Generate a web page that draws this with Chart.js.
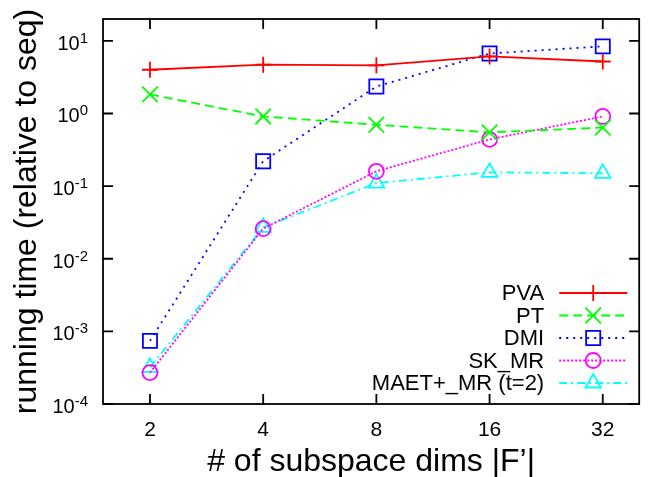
<!DOCTYPE html>
<html>
<head>
<meta charset="utf-8">
<script src="https://cdn.jsdelivr.net/npm/chart.js@4/dist/chart.umd.min.js"></script>
<style>
  html, body { margin: 0; padding: 0; background: #fff; }
  #wrap { width: 652px; height: 477px; }
</style>
</head>
<body>
<div id="wrap"><canvas id="chart"></canvas></div>
<script>
// subspace dims |F'| and running time relative to seq
const dims = [2, 4, 8, 16, 32];
const pva = [4.0, 4.7, 4.6, 6.1, 5.2];
const pt = [1.83, 0.91, 0.70, 0.55, 0.64];
const dmi = [0.00074, 0.22, 2.35, 6.7, 8.4];
const skMr = [0.00027, 0.026, 0.16, 0.44, 0.91];
const maetMr = [0.00032, 0.027, 0.11, 0.155, 0.15];

const seriesNames = ["PVA", "PT", "DMI", "SK_MR", "MAET+_MR (t=2)"];
const yTicks = [1e-4, 1e-3, 1e-2, 1e-1, 1e0, 1e1];
const yTickExps = ["-4", "-3", "-2", "-1", "0", "1"];

const FONT = "'Liberation Sans', Arial, sans-serif";

function toPoints(vals) {
    return dims.map((d, i) => ({ x: d, y: vals[i] }));
}

function makeSet(label, vals, color, dash, style, radius) {
    return {
        label: label,
        data: toPoints(vals),
        borderColor: color,
        borderWidth: 1.8,
        borderDash: dash,
        pointStyle: style,
        pointRadius: radius,
        pointBorderColor: color,
        pointBorderWidth: 1.8,
        pointBackgroundColor: "rgba(0,0,0,0)",
        fill: false,
        tension: 0
    };
}

const datasets = [
    makeSet(seriesNames[0], pva, "#ff0000", [], "cross", 8),
    makeSet(seriesNames[1], pt, "#00ff00", [9, 5], "crossRot", 11),
    makeSet(seriesNames[2], dmi, "#0000ff", [2, 5], "rect", 10),
    makeSet(seriesNames[3], skMr, "#ff00ff", [2, 2], "circle", 7.5),
    makeSet(seriesNames[4], maetMr, "#00ffff", [8, 4, 2, 4], "triangle", 9)
];

// gnuplot-like frame: box, inward ticks, superscript y labels, legend inside
const framePlugin = {
    id: "frame",
    afterDatasetsDraw(chart) {
        const ctx = chart.ctx;
        const a = chart.chartArea;
        const xs = chart.scales.x, ys = chart.scales.y;
        ctx.save();
        ctx.strokeStyle = "#000";
        ctx.lineWidth = 1.8;
        ctx.setLineDash([]);
        ctx.strokeRect(a.left, a.top, a.right - a.left, a.bottom - a.top);
        const tl = 10;
        ctx.beginPath();
        dims.forEach(d => {
            const px = xs.getPixelForValue(d);
            ctx.moveTo(px, a.bottom); ctx.lineTo(px, a.bottom - tl);
            ctx.moveTo(px, a.top); ctx.lineTo(px, a.top + tl);
        });
        yTicks.forEach(v => {
            const py = ys.getPixelForValue(v);
            ctx.moveTo(a.left, py); ctx.lineTo(a.left + tl, py);
            ctx.moveTo(a.right, py); ctx.lineTo(a.right - tl, py);
        });
        ctx.stroke();

        // y labels 10^n
        ctx.fillStyle = "#000";
        yTicks.forEach((v, i) => {
            const py = ys.getPixelForValue(v);
            ctx.font = "15px " + FONT;
            const ew = ctx.measureText(yTickExps[i]).width;
            const right = a.left - 15;
            ctx.textAlign = "left";
            ctx.textBaseline = "alphabetic";
            ctx.fillText(yTickExps[i], right - ew, py + 2);
            ctx.font = "20px " + FONT;
            ctx.textAlign = "right";
            ctx.fillText("10", right - ew, py + 9);
        });

        // legend
        const textRight = a.right - 95;
        const x0 = a.right - 80, x1 = a.right - 12, xm = a.right - 46;
        chart.data.datasets.forEach((ds, i) => {
            const n = chart.data.datasets.length;
            const y = a.bottom - 21 - (n - 1 - i) * 22.5;
            ctx.font = "22px " + FONT;
            ctx.textAlign = "right";
            ctx.textBaseline = "middle";
            ctx.fillStyle = "#000";
            ctx.fillText(ds.label, textRight, y + 1);
            ctx.strokeStyle = ds.borderColor;
            ctx.lineWidth = ds.borderWidth;
            ctx.setLineDash(ds.borderDash);
            ctx.beginPath();
            ctx.moveTo(x0, y); ctx.lineTo(x1, y);
            ctx.stroke();
            ctx.setLineDash([]);
            ctx.fillStyle = "rgba(0,0,0,0)";
            ctx.lineWidth = ds.pointBorderWidth;
            Chart.helpers.drawPoint(ctx, {
                pointStyle: ds.pointStyle,
                radius: ds.pointRadius,
                rotation: 0,
                borderWidth: ds.pointBorderWidth
            }, xm, y);
        });
        ctx.restore();
    }
};

new Chart(document.getElementById("chart"), {
    type: "line",
    data: { datasets: datasets },
    options: {
        responsive: true,
        maintainAspectRatio: false,
        animation: false,
        layout: { padding: { top: 19, right: 10, left: 0, bottom: 0 } },
        plugins: { legend: { display: false }, tooltip: { enabled: false } },
        scales: {
            x: {
                type: "logarithmic",
                min: 1.5,
                max: 40,
                grid: { display: false, drawTicks: false },
                border: { display: false },
                afterBuildTicks: s => { s.ticks = dims.map(v => ({ value: v })); },
                afterFit: s => { s.height = 73; },
                ticks: {
                    color: "#000",
                    font: { family: FONT, size: 21 },
                    padding: 14,
                    maxRotation: 0,
                    callback: v => String(v)
                },
                title: {
                    display: true,
                    text: "# of subspace dims |F\u2019|",
                    color: "#000",
                    font: { family: FONT, size: 32, lineHeight: 1 },
                    padding: { top: 0, bottom: -1 }
                }
            },
            y: {
                type: "logarithmic",
                min: 1e-4,
                max: 20,
                grid: { display: false, drawTicks: false },
                border: { display: false },
                afterBuildTicks: s => { s.ticks = yTicks.map(v => ({ value: v })); },
                afterFit: s => { s.width = 103; },
                ticks: { display: false },
                title: {
                    display: true,
                    text: "running time (relative to seq)",
                    color: "#000",
                    font: { family: FONT, size: 32, lineHeight: 1 },
                    padding: { top: 11, bottom: 0 }
                }
            }
        }
    },
    plugins: [framePlugin]
});
</script>
</body>
</html>
